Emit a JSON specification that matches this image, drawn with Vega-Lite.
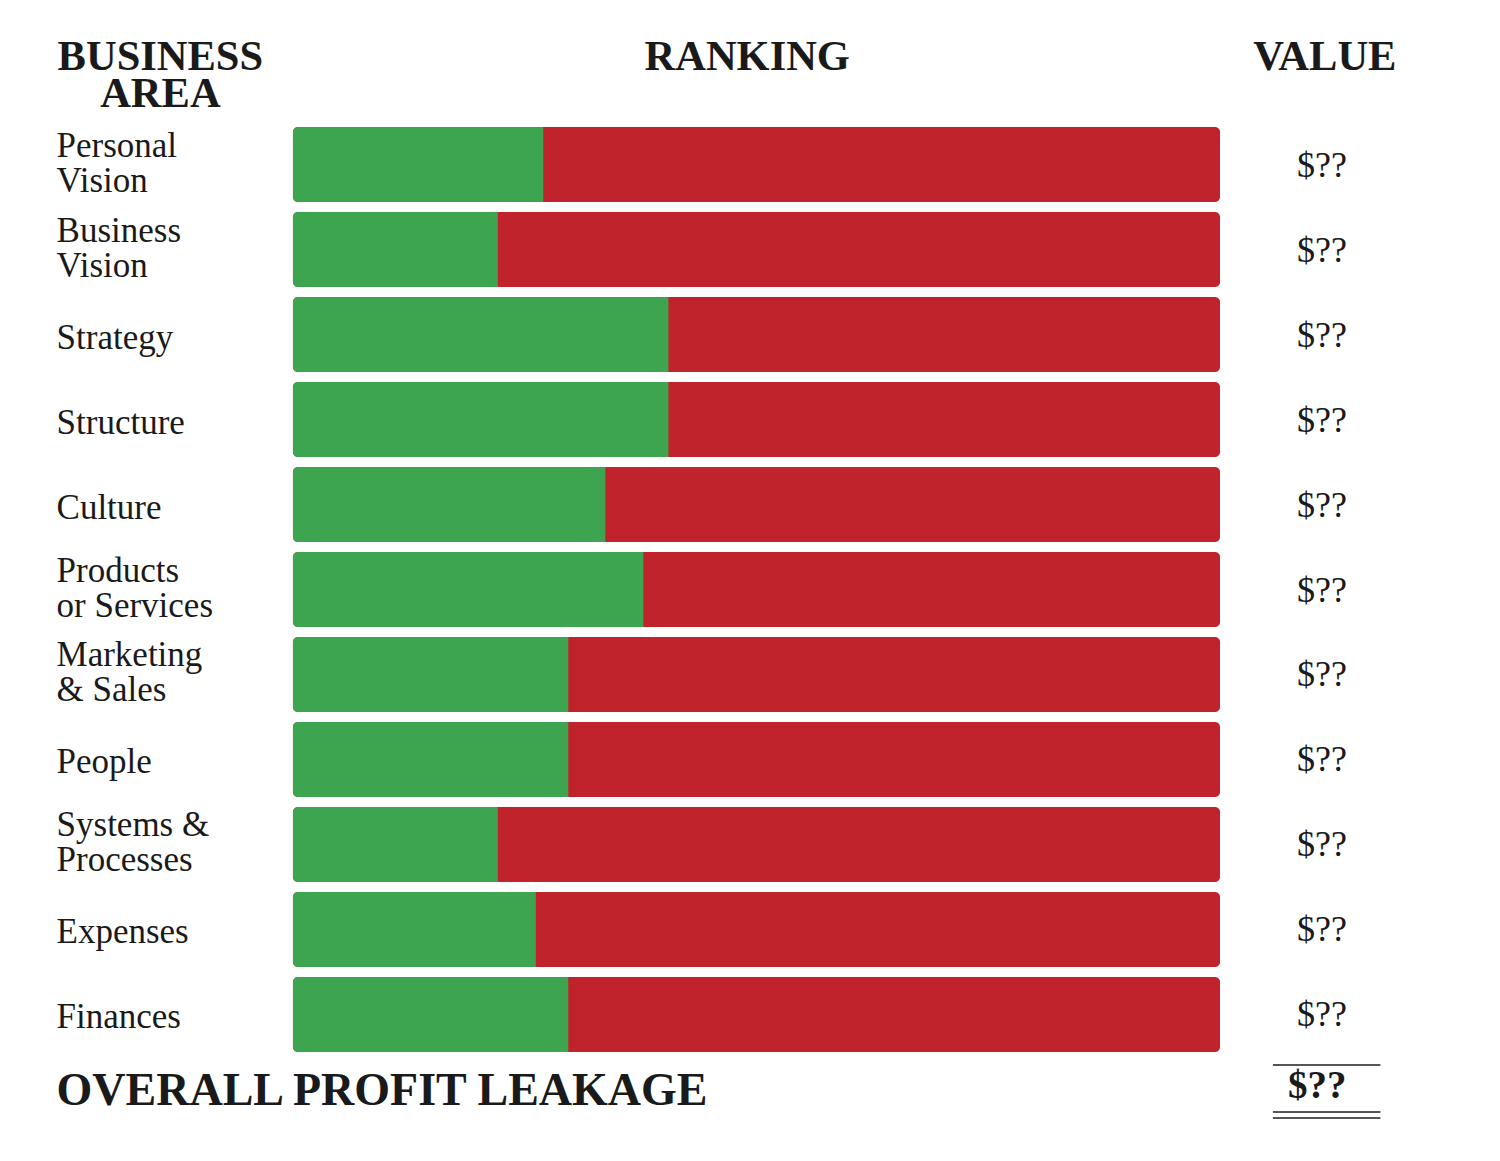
{
  "$schema": "https://vega.github.io/schema/vega-lite/v6.json",
  "width": 1500,
  "height": 1161,
  "autosize": "none",
  "padding": 0,
  "background": "white",
  "config": {"view": {"stroke": null}, "text": {"font": "Liberation Serif", "color": "#1a1a1a"}},
  "datasets": {
    "rows": [
      {"area": "Personal Vision", "label": "Personal\nVision", "score": 27.0, "max": 100, "value": "$??"},
      {"area": "Business Vision", "label": "Business\nVision", "score": 22.1, "max": 100, "value": "$??"},
      {"area": "Strategy", "label": "Strategy", "score": 40.5, "max": 100, "value": "$??"},
      {"area": "Structure", "label": "Structure", "score": 40.5, "max": 100, "value": "$??"},
      {"area": "Culture", "label": "Culture", "score": 33.7, "max": 100, "value": "$??"},
      {"area": "Products or Services", "label": "Products\nor Services", "score": 37.8, "max": 100, "value": "$??"},
      {"area": "Marketing & Sales", "label": "Marketing\n& Sales", "score": 29.7, "max": 100, "value": "$??"},
      {"area": "People", "label": "People", "score": 29.7, "max": 100, "value": "$??"},
      {"area": "Systems & Processes", "label": "Systems &\nProcesses", "score": 22.1, "max": 100, "value": "$??"},
      {"area": "Expenses", "label": "Expenses", "score": 26.2, "max": 100, "value": "$??"},
      {"area": "Finances", "label": "Finances", "score": 29.7, "max": 100, "value": "$??"}
    ],
    "headers": [
      {"area": "header", "text": "BUSINESS\nAREA", "pos": -14.3},
      {"area": "header", "text": "RANKING", "pos": 49.0},
      {"area": "header", "text": "VALUE", "pos": 111.3}
    ],
    "total": [
      {"area": "total", "text": "OVERALL PROFIT LEAKAGE", "value": "$??", "x1": 105.7, "x2": 117.3}
    ]
  },
  "layer": [
    {
      "data": {"name": "rows"},
      "mark": {"type": "bar", "color": "#C1232D", "cornerRadius": 5},
      "encoding": {
        "y": {"field": "area", "type": "nominal", "axis": null,
          "scale": {"type": "band", "domain": ["header", "Personal Vision", "Business Vision", "Strategy", "Structure", "Culture", "Products or Services", "Marketing & Sales", "People", "Systems & Processes", "Expenses", "Finances", "total"], "range": [42, 1137], "paddingInner": 0.1176, "paddingOuter": 0}},
        "x": {"field": "max", "type": "quantitative", "stack": null, "axis": null, "scale": {"domain": [-31.6, 130.2], "nice": false, "zero": false}}
      }
    },
    {
      "data": {"name": "rows"},
      "mark": {"type": "bar", "color": "#3DA44F", "cornerRadiusTopLeft": 5, "cornerRadiusBottomLeft": 5},
      "encoding": {
        "y": {"field": "area", "type": "nominal"},
        "x": {"field": "score", "type": "quantitative", "stack": null}
      }
    },
    {
      "data": {"name": "rows"},
      "transform": [{"filter": "indexof(datum.label, '\\n') < 0"}],
      "mark": {"type": "text", "align": "left", "baseline": "middle", "fontSize": 35, "dy": 3},
      "encoding": {
        "y": {"field": "area", "type": "nominal"},
        "x": {"datum": -25.5, "type": "quantitative"},
        "text": {"field": "label"}
      }
    },
    {
      "data": {"name": "rows"},
      "transform": [{"filter": "indexof(datum.label, '\\n') >= 0"}],
      "mark": {"type": "text", "align": "left", "baseline": "middle", "fontSize": 35, "lineBreak": "\n", "lineHeight": 35, "dy": -19},
      "encoding": {
        "y": {"field": "area", "type": "nominal"},
        "x": {"datum": -25.5, "type": "quantitative"},
        "text": {"field": "label"}
      }
    },
    {
      "data": {"name": "rows"},
      "mark": {"type": "text", "align": "center", "baseline": "middle", "fontSize": 36, "dy": 1},
      "encoding": {
        "y": {"field": "area", "type": "nominal"},
        "x": {"datum": 111.0, "type": "quantitative"},
        "text": {"field": "value"}
      }
    },
    {
      "data": {"name": "headers"},
      "mark": {"type": "text", "align": "center", "baseline": "alphabetic", "fontSize": 42.5, "fontWeight": "bold", "lineBreak": "\n", "lineHeight": 37, "dy": -10},
      "encoding": {
        "y": {"field": "area", "type": "nominal"},
        "x": {"field": "pos", "type": "quantitative"},
        "text": {"field": "text"}
      }
    },
    {
      "data": {"name": "total"},
      "mark": {"type": "text", "align": "left", "baseline": "alphabetic", "fontSize": 46, "fontWeight": "bold", "dy": 6},
      "encoding": {
        "y": {"field": "area", "type": "nominal"},
        "x": {"datum": -25.5, "type": "quantitative"},
        "text": {"field": "text"}
      }
    },
    {
      "data": {"name": "total"},
      "mark": {"type": "text", "align": "center", "baseline": "alphabetic", "fontSize": 39, "fontWeight": "bold", "dy": -1.5},
      "encoding": {
        "y": {"field": "area", "type": "nominal"},
        "x": {"datum": 110.5, "type": "quantitative"},
        "text": {"field": "value"}
      }
    },
    {
      "data": {"name": "total"},
      "mark": {"type": "rule", "color": "#555555", "strokeWidth": 2},
      "encoding": {
        "y": {"field": "area", "type": "nominal", "bandPosition": 0.04},
        "x": {"field": "x1", "type": "quantitative"},
        "x2": {"field": "x2"}
      }
    },
    {
      "data": {"name": "total"},
      "mark": {"type": "rule", "color": "#555555", "strokeWidth": 2},
      "encoding": {
        "y": {"field": "area", "type": "nominal", "bandPosition": 0.667},
        "x": {"field": "x1", "type": "quantitative"},
        "x2": {"field": "x2"}
      }
    },
    {
      "data": {"name": "total"},
      "mark": {"type": "rule", "color": "#555555", "strokeWidth": 2},
      "encoding": {
        "y": {"field": "area", "type": "nominal", "bandPosition": 0.747},
        "x": {"field": "x1", "type": "quantitative"},
        "x2": {"field": "x2"}
      }
    }
  ]
}
